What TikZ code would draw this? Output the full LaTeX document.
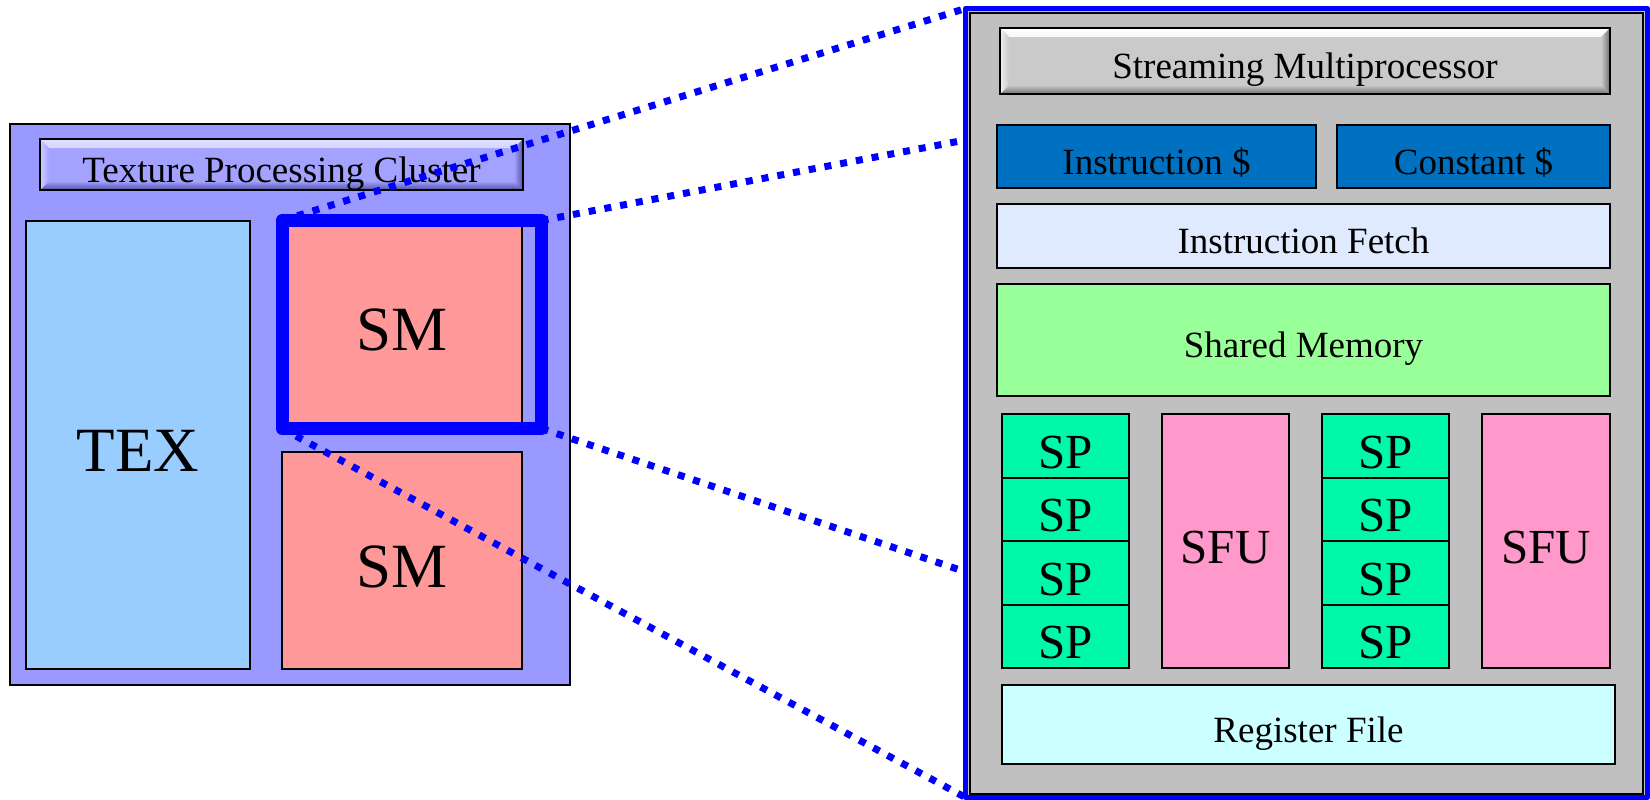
\documentclass[tikz,border=0pt]{standalone}
\usepackage{fontspec}
\setmainfont{Liberation Serif}
\definecolor{tpcfill}{HTML}{9999FF}
\definecolor{texfill}{HTML}{99CCFF}
\definecolor{smfill}{HTML}{FF9999}
\definecolor{panelfill}{HTML}{C0C0C0}
\definecolor{cachefill}{HTML}{0070C0}
\definecolor{fetchfill}{HTML}{DFEAFF}
\definecolor{shmfill}{HTML}{99FF99}
\definecolor{spfill}{HTML}{00F9A8}
\definecolor{sfufill}{HTML}{FF99CC}
\definecolor{regfill}{HTML}{CCFFFF}
\definecolor{tbase}{HTML}{A3A3FF}
\definecolor{tlight}{HTML}{E0E0FF}
\definecolor{tdark}{HTML}{5050A8}
\definecolor{gbase}{HTML}{CACACA}
\definecolor{glight}{HTML}{FFFFFF}
\definecolor{gdark}{HTML}{707070}
\newcommand\blkat[7]{%
  \node[blk,#1,minimum width={#5pt-#3pt},minimum height={#6pt-#4pt}] (#2) at ({(#3+#5)/2},{(#4+#6)/2}) {#7};}
\begin{document}
\begin{tikzpicture}[x=1pt,y=-1pt,
  blk/.style={draw=black, line width=2pt, inner sep=0pt, outer sep=0pt, rectangle,
    font=\fontsize{37}{42}\selectfont, text height=40pt, text depth=5pt},
  big/.style={font=\fontsize{63}{70}\selectfont, text height=58pt, text depth=5pt},
  mid/.style={font=\fontsize{49}{55}\selectfont, text height=50pt, text depth=5pt},
  bevel/.style n args={3}{draw=none, fill=#1, path picture={
    \def\pb{path picture bounding box}
    \shade[top color=#2, bottom color=#1] (\pb.north west) -- (\pb.north east) -- ([shift={(-9,9)}]\pb.north east) -- ([shift={(9,9)}]\pb.north west) -- cycle;
    \shade[top color=#1, bottom color=#3] (\pb.south west) -- (\pb.south east) -- ([shift={(-9,-9)}]\pb.south east) -- ([shift={(9,-9)}]\pb.south west) -- cycle;
    \shade[left color=#2!70!#1, right color=#1] (\pb.north west) -- ([shift={(9,9)}]\pb.north west) -- ([shift={(9,-9)}]\pb.south west) -- (\pb.south west) -- cycle;
    \shade[left color=#1, right color=#3] (\pb.north east) -- ([shift={(-9,9)}]\pb.north east) -- ([shift={(-9,-9)}]\pb.south east) -- (\pb.south east) -- cycle;
  }},
  barborder/.style={draw=black, line width=2.5pt},
  zoomline/.style={draw=blue, line width=7pt, dash pattern=on 7pt off 9pt}]
\useasboundingbox[fill=white] (0,0) rectangle (1650,800);

% ---- left: texture processing cluster
\blkat{fill=tpcfill}{tpc}{10}{124}{570}{685}{}
\blkat{bevel={tbase}{tlight}{tdark}}{tpct}{40}{139}{523}{190}{Texture Processing Cluster}
\draw[barborder] (tpct.north west) rectangle (tpct.south east);
\blkat{fill=texfill,big}{tex}{26}{221}{250}{669}{TEX}
\blkat{fill=smfill,big}{sma}{282}{220}{522}{428}{SM}
\blkat{fill=smfill,big}{smb}{282}{452}{522}{669}{SM}
\node[draw=blue, line width=13pt, line join=round, outer sep=0pt, inner sep=0pt, rectangle,
  minimum width=259.5pt, minimum height=208pt] (hl) at ({(282+541.5)/2},{(220.5+428.5)/2}) {};

% ---- right: streaming multiprocessor
\node[draw=blue, fill=panelfill, line width=5pt, line join=round, outer sep=0pt, inner sep=0pt, rectangle,
  minimum width=682pt, minimum height=789pt] (panel) at ({(965.5+1647.5)/2},{(8.5+797.5)/2}) {};
\draw[line width=2.5pt] ([shift={(4.5,4.5)}]panel.north west) rectangle ([shift={(-4.5,-3.5)}]panel.south east);
\blkat{bevel={gbase}{glight}{gdark}}{smt}{1000}{28}{1610}{94}{Streaming Multiprocessor}
\draw[barborder] (smt.north west) rectangle (smt.south east);
\blkat{fill=cachefill}{icache}{997}{125}{1316}{188}{Instruction \$}
\blkat{fill=cachefill}{ccache}{1337}{125}{1610}{188}{Constant \$}
\blkat{fill=fetchfill}{ifetch}{997}{204}{1610}{268}{Instruction Fetch}
\blkat{fill=shmfill}{shm}{997}{284}{1610}{396}{Shared Memory}
\blkat{fill=spfill,mid}{spa1}{1002}{414}{1129}{477.5}{SP}
\blkat{fill=spfill,mid}{spa2}{1002}{477.5}{1129}{541}{SP}
\blkat{fill=spfill,mid}{spa3}{1002}{541}{1129}{604.5}{SP}
\blkat{fill=spfill,mid}{spa4}{1002}{604.5}{1129}{668}{SP}
\blkat{fill=sfufill,mid}{sfua}{1162}{414}{1289}{668}{SFU}
\blkat{fill=spfill,mid}{spb1}{1322}{414}{1449}{477.5}{SP}
\blkat{fill=spfill,mid}{spb2}{1322}{477.5}{1449}{541}{SP}
\blkat{fill=spfill,mid}{spb3}{1322}{541}{1449}{604.5}{SP}
\blkat{fill=spfill,mid}{spb4}{1322}{604.5}{1449}{668}{SP}
\blkat{fill=sfufill,mid}{sfub}{1482}{414}{1610}{668}{SFU}
\blkat{fill=regfill}{reg}{1002}{685}{1615}{764}{Register File}

% ---- zoom lines
\coordinate (c2) at (960,141);
\coordinate (c3) at (960,570);
\draw[zoomline] (hl.north west) -- (panel.north west);
\draw[zoomline] (hl.north east) -- (c2);
\draw[zoomline] (hl.south east) -- (c3);
\draw[zoomline] (hl.south west) -- (panel.south west);
\end{tikzpicture}
\end{document}
